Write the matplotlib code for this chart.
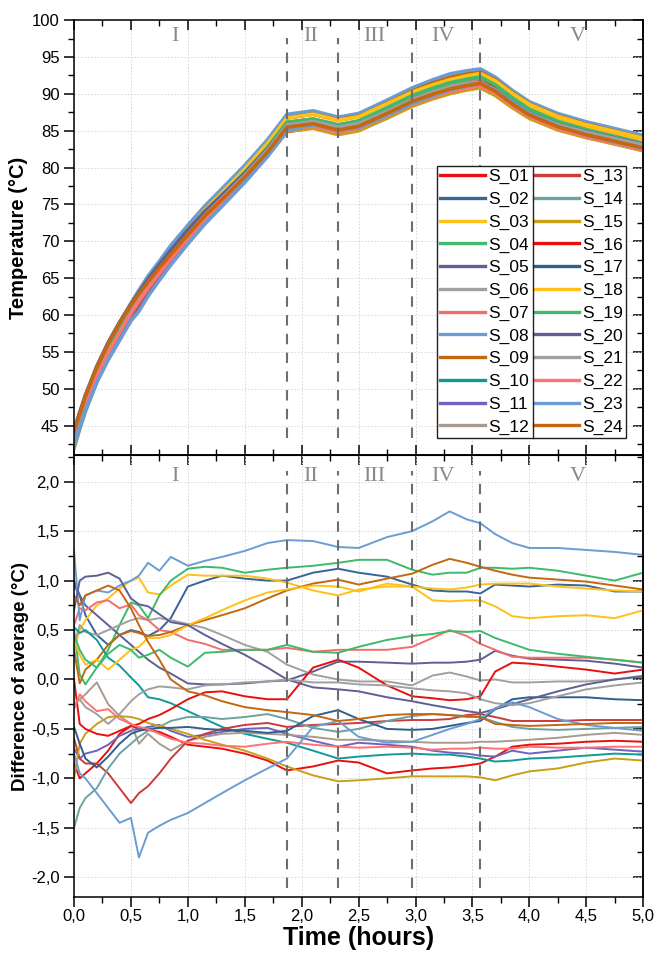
import matplotlib
matplotlib.use("Agg")
import matplotlib.pyplot as plt
import numpy as np
from matplotlib.ticker import FuncFormatter, MultipleLocator

plt.rcParams["font.family"] = ["Liberation Sans", "DejaVu Sans"]

# time grid (hours) the values were read at
time_h = [0, 0.05, 0.1, 0.2, 0.3, 0.4, 0.5, 0.57, 0.65, 0.75, 0.85, 1.0, 1.15, 1.3, 1.5, 1.7,
          1.87, 2.1, 2.32, 2.5, 2.75, 2.97, 3.15, 3.3, 3.45, 3.57, 3.7, 3.85, 4.0, 4.25, 4.5, 4.75, 5.0]

# average temperature of all sensors (deg C)
avg_temp = [43.4, 45.8, 48.1, 52.0, 55.2, 58.0, 60.6, 62.3, 64.1, 66.2, 68.2, 71.0, 73.6, 75.9, 79.0, 82.4,
            85.8, 86.3, 85.5, 86.0, 87.7, 89.3, 90.3, 91.0, 91.5, 91.8, 90.8, 89.1, 87.6, 86.0, 84.9, 84.0, 83.1]

# difference of each sensor to the average (deg C)
s01 = [-0.85, -1.00, -0.95, -0.85, -0.72, -0.55, -0.47, -0.50, -0.51, -0.53, -0.58, -0.66, -0.68, -0.70, -0.75, -0.82,
       -0.92, -0.88, -0.82, -0.84, -0.95, -0.92, -0.90, -0.89, -0.87, -0.85, -0.78, -0.68, -0.66, -0.65, -0.63, -0.62, -0.63]
s02 = [1.00, 0.85, 0.65, 0.45, 0.35, 0.45, 0.50, 0.48, 0.44, 0.50, 0.62, 0.94, 1.00, 1.05, 1.02, 1.00,
       1.00, 1.08, 1.12, 1.08, 1.04, 0.96, 0.90, 0.89, 0.89, 0.87, 0.96, 0.95, 0.94, 0.96, 0.95, 0.89, 0.89]
s03 = [0.30, 0.50, 0.60, 0.75, 0.82, 0.92, 1.00, 1.03, 0.88, 0.86, 0.95, 1.06, 1.05, 1.05, 1.05, 1.02,
       0.98, 0.90, 0.85, 0.91, 0.94, 0.94, 0.80, 0.79, 0.80, 0.80, 0.74, 0.64, 0.62, 0.64, 0.65, 0.62, 0.70]
s04 = [0.50, 0.05, -0.05, 0.12, 0.30, 0.55, 0.78, 0.75, 0.62, 0.85, 1.00, 1.12, 1.14, 1.13, 1.08, 1.11,
       1.13, 1.15, 1.18, 1.21, 1.21, 1.11, 1.06, 1.08, 1.08, 1.13, 1.13, 1.12, 1.13, 1.10, 1.05, 1.00, 1.08]
s05 = [0.95, 0.85, 0.75, 0.65, 0.55, 0.45, 0.35, 0.28, 0.20, 0.12, 0.06, -0.04, -0.05, -0.05, -0.04, -0.02,
       -0.01, 0.08, 0.18, 0.18, 0.17, 0.16, 0.17, 0.17, 0.18, 0.20, 0.29, 0.24, 0.21, 0.20, 0.19, 0.16, 0.12]
s06 = [0.35, 0.55, 0.48, 0.45, 0.50, 0.55, 0.60, 0.62, 0.60, 0.62, 0.60, 0.56, 0.52, 0.45, 0.35, 0.28,
       0.15, 0.05, 0.00, -0.02, -0.02, -0.06, 0.04, 0.07, 0.03, -0.01, 0.00, -0.03, -0.03, -0.02, -0.02, 0.00, 0.04]
s07 = [0.55, 0.72, 0.70, 0.78, 0.80, 0.72, 0.76, 0.65, 0.60, 0.50, 0.48, 0.40, 0.36, 0.30, 0.30, 0.30,
       0.32, 0.28, 0.30, 0.30, 0.30, 0.33, 0.42, 0.50, 0.44, 0.36, 0.30, 0.23, 0.22, 0.22, 0.22, 0.20, 0.17]
s08 = [1.30, 0.60, 0.85, 0.90, 0.88, 0.95, 1.00, 1.05, 1.18, 1.10, 1.24, 1.15, 1.20, 1.24, 1.30, 1.38,
       1.41, 1.40, 1.34, 1.33, 1.44, 1.50, 1.60, 1.70, 1.62, 1.58, 1.47, 1.38, 1.33, 1.33, 1.31, 1.29, 1.26]
s09 = [0.30, -0.04, 0.10, 0.20, 0.35, 0.45, 0.49, 0.47, 0.44, 0.45, 0.48, 0.55, 0.60, 0.65, 0.72, 0.82,
       0.90, 0.97, 1.01, 0.96, 1.02, 1.07, 1.16, 1.22, 1.18, 1.14, 1.10, 1.06, 1.03, 1.01, 0.99, 0.95, 0.91]
s10 = [0.53, 0.47, 0.50, 0.40, 0.22, 0.14, 0.02, -0.06, -0.18, -0.20, -0.24, -0.32, -0.40, -0.48, -0.55, -0.60,
       -0.64, -0.72, -0.80, -0.78, -0.76, -0.75, -0.76, -0.76, -0.78, -0.80, -0.83, -0.82, -0.80, -0.79, -0.77, -0.75, -0.76]
s11 = [-0.70, -0.80, -0.75, -0.72, -0.66, -0.57, -0.52, -0.50, -0.48, -0.46, -0.52, -0.58, -0.56, -0.53, -0.50, -0.49,
       -0.55, -0.62, -0.68, -0.64, -0.66, -0.68, -0.72, -0.74, -0.75, -0.77, -0.78, -0.72, -0.75, -0.72, -0.69, -0.71, -0.73]
s12 = [-0.27, -0.20, -0.15, -0.03, -0.25, -0.37, -0.45, -0.65, -0.55, -0.65, -0.72, -0.62, -0.58, -0.55, -0.54, -0.55,
       -0.56, -0.58, -0.61, -0.61, -0.62, -0.63, -0.64, -0.64, -0.64, -0.63, -0.63, -0.62, -0.61, -0.59, -0.56, -0.54, -0.56]
s13 = [-0.60, -0.80, -0.85, -0.85, -0.95, -1.10, -1.25, -1.15, -1.08, -0.95, -0.80, -0.62, -0.55, -0.50, -0.46, -0.44,
       -0.48, -0.46, -0.45, -0.44, -0.42, -0.41, -0.41, -0.40, -0.36, -0.35, -0.38, -0.42, -0.42, -0.42, -0.41, -0.41, -0.41]
s14 = [-1.50, -1.30, -1.20, -1.10, -0.90, -0.75, -0.65, -0.58, -0.52, -0.48, -0.42, -0.38, -0.38, -0.40, -0.38, -0.35,
       -0.40, -0.49, -0.53, -0.50, -0.42, -0.37, -0.35, -0.36, -0.38, -0.38, -0.43, -0.48, -0.50, -0.51, -0.50, -0.49, -0.48]
s15 = [-1.00, -0.65, -0.55, -0.45, -0.38, -0.37, -0.38, -0.40, -0.44, -0.47, -0.50, -0.55, -0.61, -0.66, -0.72, -0.80,
       -0.88, -0.97, -1.03, -1.02, -1.00, -0.98, -0.98, -0.98, -0.98, -0.99, -1.02, -0.97, -0.93, -0.90, -0.84, -0.80, -0.82]
s16 = [0.00, -0.45, -0.50, -0.55, -0.57, -0.52, -0.47, -0.45, -0.40, -0.36, -0.30, -0.20, -0.13, -0.12, -0.17, -0.20,
       -0.20, 0.12, 0.20, 0.12, -0.06, -0.17, -0.19, -0.21, -0.20, -0.17, 0.08, 0.17, 0.16, 0.13, 0.10, 0.06, 0.10]
s17 = [-0.48, -0.65, -0.80, -0.89, -0.78, -0.65, -0.55, -0.52, -0.50, -0.49, -0.49, -0.48, -0.50, -0.51, -0.52, -0.54,
       -0.52, -0.37, -0.31, -0.40, -0.50, -0.51, -0.50, -0.47, -0.44, -0.42, -0.30, -0.20, -0.18, -0.18, -0.18, -0.20, -0.21]
s18 = [0.40, 0.25, 0.15, 0.20, 0.10, 0.20, 0.30, 0.33, 0.42, 0.42, 0.45, 0.55, 0.62, 0.70, 0.80, 0.88,
       0.91, 0.95, 0.94, 0.89, 0.97, 0.94, 0.92, 0.91, 0.93, 0.96, 0.97, 0.97, 0.97, 0.94, 0.92, 0.90, 0.89]
s19 = [0.45, 0.30, 0.20, 0.12, 0.26, 0.35, 0.30, 0.22, 0.25, 0.30, 0.22, 0.13, 0.27, 0.28, 0.30, 0.30,
       0.35, 0.28, 0.27, 0.33, 0.40, 0.44, 0.46, 0.49, 0.48, 0.49, 0.42, 0.36, 0.30, 0.26, 0.23, 0.20, 0.17]
s20 = [0.70, 1.00, 1.04, 1.05, 1.08, 1.02, 0.82, 0.76, 0.74, 0.66, 0.58, 0.55, 0.45, 0.36, 0.25, 0.12,
       0.00, -0.08, -0.10, -0.12, -0.18, -0.22, -0.26, -0.29, -0.32, -0.34, -0.30, -0.25, -0.20, -0.12, -0.05, 0.00, 0.03]
s21 = [-0.25, -0.20, -0.28, -0.35, -0.45, -0.35, -0.22, -0.15, -0.10, -0.07, -0.08, -0.10, -0.06, -0.05, -0.03, -0.02,
       0.00, -0.03, -0.03, -0.05, -0.06, -0.09, -0.11, -0.12, -0.14, -0.20, -0.24, -0.26, -0.24, -0.17, -0.10, -0.06, -0.03]
s22 = [-0.30, -0.15, -0.22, -0.32, -0.30, -0.40, -0.45, -0.48, -0.50, -0.55, -0.60, -0.64, -0.65, -0.67, -0.68, -0.65,
       -0.63, -0.66, -0.68, -0.69, -0.68, -0.69, -0.71, -0.70, -0.70, -0.69, -0.70, -0.70, -0.68, -0.69, -0.69, -0.68, -0.68]
s23 = [-0.75, -0.95, -1.00, -1.15, -1.30, -1.45, -1.40, -1.80, -1.55, -1.48, -1.42, -1.35, -1.25, -1.15, -1.02, -0.90,
       -0.80, -0.48, -0.42, -0.58, -0.64, -0.63, -0.56, -0.50, -0.45, -0.40, -0.29, -0.23, -0.28, -0.40, -0.46, -0.49, -0.52]
s24 = [0.85, 0.75, 0.85, 0.90, 0.95, 0.90, 0.72, 0.55, 0.38, 0.20, 0.00, -0.12, -0.16, -0.22, -0.28, -0.31,
       -0.33, -0.36, -0.42, -0.40, -0.36, -0.35, -0.35, -0.36, -0.37, -0.38, -0.45, -0.46, -0.47, -0.46, -0.45, -0.44, -0.44]

sensor_names = [f"S_{i:02d}" for i in range(1, 25)]
sensor_diffs = [s01, s02, s03, s04, s05, s06, s07, s08, s09, s10, s11, s12,
                s13, s14, s15, s16, s17, s18, s19, s20, s21, s22, s23, s24]
sensor_colors = ["#E8100E", "#35659A", "#FFC019", "#3DBA6B", "#5F5F95", "#A0A0A0",
                 "#F46C6C", "#6A9DD3", "#C5670F", "#0F9A97", "#7063C0", "#A89A8E",
                 "#CC3B3B", "#6CA3A0", "#C9A015", "#E8100E", "#2F5F8F", "#FFC019",
                 "#3DBA6B", "#5F5F95", "#A0A0A0", "#FF7373", "#6A9DD3", "#C5670F"]

phase_bounds = [1.87, 2.32, 2.97, 3.57]
phase_labels = ["I", "II", "III", "IV", "V"]
phase_label_x = [0.89, 2.08, 2.64, 3.24, 4.43]

comma = FuncFormatter(lambda v, p: f"{v:.1f}".replace(".", ","))

fig = plt.figure(figsize=(6.61, 9.58), dpi=100)
ax_t = fig.add_axes([0.112, 0.525, 0.861, 0.454])
ax_b = fig.add_axes([0.112, 0.0637, 0.861, 0.4613])

t = np.array(time_h)
avg = np.array(avg_temp)
for name, diff, color in zip(sensor_names, sensor_diffs, sensor_colors):
    ax_t.plot(t, avg + np.array(diff), color=color, lw=2.6, label=name, solid_joinstyle="round")
    ax_b.plot(t, diff, color=color, lw=1.4)

ax_t.set_ylim(41, 100)
ax_b.set_ylim(-2.2, 2.27)

for ax, lo, hi, yl in [(ax_t, 0.04, 0.96, 97.8), (ax_b, 0.02, 0.965, 2.05)]:
    ax.set_xlim(0, 5)
    for xb in phase_bounds:
        ax.axvline(xb, ymin=lo, ymax=hi, color="#6e6e6e", lw=1.5, ls=(0, (5, 4)), zorder=5)
    for lab, xl in zip(phase_labels, phase_label_x):
        ax.text(xl, yl, lab, ha="center", va="center", fontsize=16, color="#8a8a8a",
                family=["Liberation Serif", "DejaVu Serif"])
    ax.grid(True, which="major", color="#d4d4d4", lw=0.6, ls=(0, (2, 2)))
    ax.set_axisbelow(True)
    ax.xaxis.set_major_locator(MultipleLocator(0.5))
    ax.xaxis.set_minor_locator(MultipleLocator(0.25))
    for sp in ax.spines.values():
        sp.set_linewidth(1.1)
    ax.tick_params(axis="y", which="both", direction="out", right=False, labelsize=12)
    ax.tick_params(axis="y", which="major", length=7, width=1.1)
    ax.tick_params(axis="y", which="minor", length=4, width=1.0)
    ax.tick_params(axis="x", which="major", length=7, width=1.1, labelsize=12)
    ax.tick_params(axis="x", which="minor", length=4, width=1.0)

ax_t.yaxis.set_major_locator(MultipleLocator(5))
ax_t.yaxis.set_minor_locator(MultipleLocator(2.5))
ax_t.tick_params(axis="x", which="both", direction="in", top=True, labelbottom=False)
ax_b.yaxis.set_major_locator(MultipleLocator(0.5))
ax_b.yaxis.set_minor_locator(MultipleLocator(0.25))
ax_b.yaxis.set_major_formatter(comma)
ax_b.xaxis.set_major_formatter(comma)
ax_b.tick_params(axis="x", which="both", direction="out", top=False, pad=2)

for ax, maj, mnr in [(ax_t, 5, 2.5), (ax_b, 0.5, 0.25)]:
    sec = ax.secondary_yaxis("right")
    sec.yaxis.set_major_locator(MultipleLocator(maj))
    sec.yaxis.set_minor_locator(MultipleLocator(mnr))
    sec.tick_params(which="both", direction="in", labelright=False)
    sec.tick_params(which="major", length=7, width=1.1)
    sec.tick_params(which="minor", length=4, width=1.0)
    sec.spines["right"].set_linewidth(1.1)
secx = ax_b.secondary_xaxis("top")
secx.xaxis.set_major_locator(MultipleLocator(0.5))
secx.xaxis.set_minor_locator(MultipleLocator(0.25))
secx.tick_params(which="both", direction="in", labeltop=False)
secx.tick_params(which="major", length=7, width=1.1)
secx.tick_params(which="minor", length=4, width=1.0)

ax_t.set_ylabel("Temperature (°C)", fontsize=14.5, fontweight="bold", labelpad=3)
ax_b.set_ylabel("Difference of average (°C)", fontsize=13.5, fontweight="bold", labelpad=1)
ax_b.set_xlabel("Time (hours)", fontsize=18, fontweight="bold", labelpad=1)

leg = ax_t.legend(ncol=2, loc="lower right", bbox_to_anchor=(0.970, 0.039), fontsize=12.5,
                  handlelength=2.6, handletextpad=0.15, columnspacing=0.3, labelspacing=0.43,
                  borderpad=0.2, borderaxespad=0, fancybox=False, framealpha=1,
                  edgecolor="#222222")
leg.get_frame().set_linewidth(1.0)
for h in leg.get_lines():
    h.set_linewidth(2.4)

fig.canvas.draw()
bb = leg.get_window_extent()
cols = leg._legend_handle_box.get_children()
c2 = cols[1].get_window_extent()
xmid = c2.x0 - 1
inv = fig.transFigure.inverted()
x_f, y0_f = inv.transform((xmid, bb.y0))
_, y1_f = inv.transform((xmid, bb.y1))
fig.add_artist(plt.Line2D([x_f, x_f], [y0_f, y1_f], color="#222222", lw=1.0))

fig.savefig("out.png", dpi=100)
